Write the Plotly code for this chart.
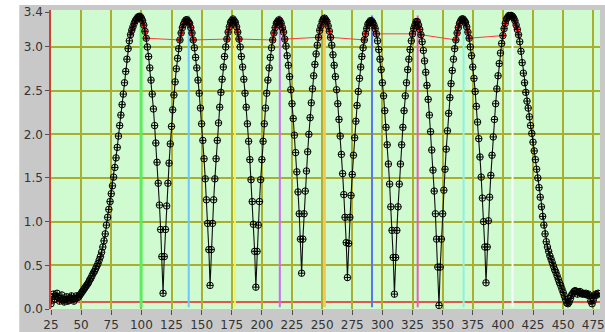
import plotly.graph_objects as go

# ---------------- data ----------------
x_start = 25
signal = [
    # 25-49 baseline noise
    0.06, 0.14, 0.17, 0.11, 0.15, 0.18, 0.13, 0.09, 0.12, 0.16, 0.10, 0.08, 0.11,
    0.14, 0.09, 0.10, 0.13, 0.15, 0.11, 0.09, 0.12, 0.15, 0.13, 0.14, 0.16,
    # 50-100 rise to first peak
    0.18, 0.20, 0.22, 0.24, 0.26, 0.28, 0.30, 0.33, 0.35, 0.38, 0.41, 0.43, 0.46,
    0.49, 0.52, 0.56, 0.60, 0.65, 0.71, 0.78, 0.86, 0.96, 1.05, 1.14, 1.23, 1.32,
    1.41, 1.51, 1.62, 1.73, 1.85, 1.98, 2.10, 2.22, 2.34, 2.46, 2.59, 2.72, 2.86,
    2.98, 3.07, 3.14, 3.19, 3.23, 3.27, 3.30, 3.32, 3.34, 3.35, 3.35,
    # 101-119
    3.33, 3.30, 3.25, 3.18, 3.10, 3.00, 2.89, 2.76, 2.62, 2.46, 2.29, 2.10, 1.90,
    1.68, 1.44, 1.19, 0.91, 0.60, 0.18,
    # 120-138
    0.60, 0.91, 1.18, 1.44, 1.67, 1.89, 2.09, 2.28, 2.45, 2.60, 2.75, 2.87, 2.98,
    3.08, 3.16, 3.22, 3.26, 3.29, 3.31,
    # 139-158
    3.31, 3.29, 3.27, 3.22, 3.16, 3.08, 2.99, 2.88, 2.76, 2.62, 2.47, 2.30, 2.12,
    1.93, 1.72, 1.49, 1.25, 0.98, 0.68, 0.27,
    # 159-177
    0.68, 0.98, 1.25, 1.49, 1.72, 1.93, 2.13, 2.31, 2.48, 2.63, 2.77, 2.89, 3.00,
    3.09, 3.17, 3.23, 3.28, 3.30, 3.32,
    # 178-196
    3.30, 3.28, 3.23, 3.17, 3.09, 3.00, 2.89, 2.77, 2.63, 2.47, 2.31, 2.12, 1.92,
    1.71, 1.48, 1.23, 0.97, 0.66, 0.25,
    # 197-215
    0.66, 0.96, 1.23, 1.48, 1.71, 1.92, 2.12, 2.30, 2.47, 2.62, 2.76, 2.88, 2.99,
    3.08, 3.16, 3.22, 3.27, 3.29, 3.31,
    # 216-234
    3.30, 3.27, 3.22, 3.17, 3.09, 3.01, 2.90, 2.79, 2.66, 2.51, 2.35, 2.18, 1.99,
    1.79, 1.57, 1.34, 1.09, 0.80, 0.41,
    # 235-253
    0.80, 1.09, 1.35, 1.58, 1.80, 2.00, 2.19, 2.36, 2.52, 2.67, 2.80, 2.92, 3.02,
    3.11, 3.19, 3.24, 3.29, 3.32, 3.33,
    # 254-272
    3.31, 3.29, 3.24, 3.18, 3.11, 3.02, 2.91, 2.79, 2.66, 2.51, 2.35, 2.17, 1.98,
    1.77, 1.55, 1.31, 1.05, 0.76, 0.36,
    # 273-291
    0.75, 1.05, 1.30, 1.54, 1.76, 1.96, 2.15, 2.33, 2.49, 2.64, 2.77, 2.89, 2.99,
    3.08, 3.15, 3.21, 3.26, 3.28, 3.30,
    # 292-311
    3.30, 3.28, 3.25, 3.21, 3.15, 3.07, 2.97, 2.86, 2.74, 2.59, 2.44, 2.27, 2.08,
    1.88, 1.66, 1.43, 1.17, 0.90, 0.59, 0.17,
    # 312-329
    0.59, 0.90, 1.17, 1.43, 1.66, 1.88, 2.08, 2.27, 2.44, 2.59, 2.74, 2.86, 2.97,
    3.07, 3.15, 3.21, 3.25, 3.29,
    # 330-348
    3.29, 3.25, 3.20, 3.14, 3.06, 2.96, 2.84, 2.71, 2.56, 2.40, 2.22, 2.03, 1.82,
    1.59, 1.35, 1.09, 0.80, 0.48, 0.04,
    # 349-367
    0.48, 0.80, 1.09, 1.36, 1.60, 1.83, 2.04, 2.24, 2.42, 2.58, 2.73, 2.86, 2.98,
    3.08, 3.16, 3.22, 3.27, 3.30, 3.32,
    # 368-387
    3.32, 3.30, 3.28, 3.23, 3.17, 3.10, 3.00, 2.90, 2.77, 2.64, 2.49, 2.32, 2.14,
    1.95, 1.74, 1.51, 1.27, 1.00, 0.71, 0.30,
    # 388-407
    0.71, 1.01, 1.28, 1.53, 1.76, 1.97, 2.17, 2.35, 2.52, 2.67, 2.81, 2.93, 3.04,
    3.13, 3.21, 3.27, 3.32, 3.34, 3.36, 3.36,
    # 408-480 fall and baseline
    3.36, 3.35, 3.33, 3.30, 3.25, 3.20, 3.14, 3.06, 2.95, 2.82, 2.70, 2.59, 2.48,
    2.38, 2.30, 2.20, 2.10, 2.01, 1.91, 1.81, 1.71, 1.60, 1.50, 1.39, 1.28, 1.17,
    1.06, 0.96, 0.86, 0.77, 0.71, 0.66, 0.61, 0.57, 0.53, 0.49, 0.45, 0.42, 0.38,
    0.34, 0.30, 0.27, 0.23, 0.19, 0.15, 0.11, 0.07, 0.06, 0.08, 0.12, 0.16, 0.18,
    0.20, 0.21, 0.20, 0.17, 0.19, 0.20, 0.18, 0.17, 0.18, 0.17, 0.18, 0.16, 0.17,
    0.15, 0.09, 0.06, 0.10, 0.15, 0.17, 0.16, 0.18,
]
sample_x = list(range(x_start, x_start + len(signal)))

peak_threshold = 3.08          # points at/above this are the red "peak" set
base_threshold = 0.08          # red horizontal threshold line

cursor_x = [99.8, 139.3, 177.6, 214.9, 251.9, 291.4, 329.3, 367.4, 408.0]
cursor_top = [3.36, 3.36, 3.35, 3.36, 3.35, 3.36, 3.36, 3.34, 3.30]
cursor_bottom = 0.02
cursor_colors = ["#5fea5f", "#6cc8f4", "#eef070", "#cc6cf2", "#f2c85c",
                 "#5a74ee", "#e660a8", "#86f4e0", "#f6fff6"]
cursor_widths = [3, 2, 2, 2, 3, 2, 2, 2, 2]

x_ticks = list(range(25, 476, 25))
y_ticks = [0.0, 0.5, 1.0, 1.5, 2.0, 2.5, 3.0, 3.4]
y_labels = ["0.0", "0.5", "1.0", "1.5", "2.0", "2.5", "3.0", "3.4"]
y_grid = [0.5, 1.0, 1.5, 2.0, 2.5, 3.0]

x_range = [25, 480.6]
y_range = [0, 3.423]

# ---------------- figure ----------------
red_x = [xv for xv, yv in zip(sample_x, signal) if yv >= peak_threshold]
red_y = [yv for yv in signal if yv >= peak_threshold]

fig = go.Figure()

fig.add_trace(go.Scatter(
    x=red_x, y=red_y, mode="lines+markers",
    line=dict(color="#ff3a3a", width=1),
    marker=dict(symbol="square", size=4, color="#ff2a2a"),
    hoverinfo="skip", showlegend=False))

fig.add_trace(go.Scatter(
    x=sample_x, y=signal, mode="lines+markers",
    line=dict(color="#101010", width=1.1),
    marker=dict(symbol="circle-cross-open", size=6.5,
                color="#000000", line=dict(width=1, color="#000000")),
    showlegend=False))

shapes = []
# white strips around the grey frame
shapes.append(dict(type="rect", xref="paper", yref="paper",
                   x0=-0.2, x1=-0.0578, y0=-0.3, y1=1.3,
                   fillcolor="white", line=dict(width=0), layer="below"))
shapes.append(dict(type="rect", xref="paper", yref="paper",
                   x0=-0.2, x1=1.2, y0=1.0167, y1=1.3,
                   fillcolor="white", line=dict(width=0), layer="below"))
for cx, ct, cc, cw in zip(cursor_x, cursor_top, cursor_colors, cursor_widths):
    shapes.append(dict(type="line", xref="x", yref="y",
                       x0=cx, x1=cx, y0=cursor_bottom, y1=ct,
                       line=dict(color=cc, width=cw), layer="between"))
shapes.append(dict(type="line", xref="paper", yref="y",
                   x0=0, x1=1, y0=base_threshold, y1=base_threshold,
                   line=dict(color="#e82020", width=1.5), layer="between"))

grid_col = "#a9af2c"
tick_font = dict(family="DejaVu Sans", size=12, color="#333333")

fig.update_layout(
    width=605, height=332,
    margin=dict(l=51, r=0, t=10, b=23, pad=0),
    paper_bgcolor="#c8c8c8",
    plot_bgcolor="#d0fbd0",
    shapes=shapes,
    showlegend=False,
    xaxis=dict(
        range=x_range, tickmode="array", tickvals=x_ticks,
        ticktext=[str(v) for v in x_ticks],
        ticks="outside", ticklen=5, tickwidth=1, tickcolor="#505050",
        ticklabeloverflow="allow",
        showgrid=True, gridcolor=grid_col, gridwidth=1.5,
        zeroline=False, showline=False, tickfont=tick_font, fixedrange=True),
    yaxis=dict(
        range=y_range, tickmode="array", tickvals=y_ticks, ticktext=y_labels,
        ticks="outside", ticklen=4, tickwidth=1, tickcolor="#505050",
        showgrid=False, zeroline=False,
        showline=True, linecolor="#d04030", linewidth=1.5,
        minor=dict(tickmode="array", tickvals=y_grid, showgrid=True,
                   gridcolor=grid_col, gridwidth=1.5, ticks=""),
        tickfont=tick_font, fixedrange=True),
)

fig.write_html(
    "out.html",
    config={"displayModeBar": False},
    post_script="document.body.style.margin='0px';document.body.style.overflow='hidden';",
)
